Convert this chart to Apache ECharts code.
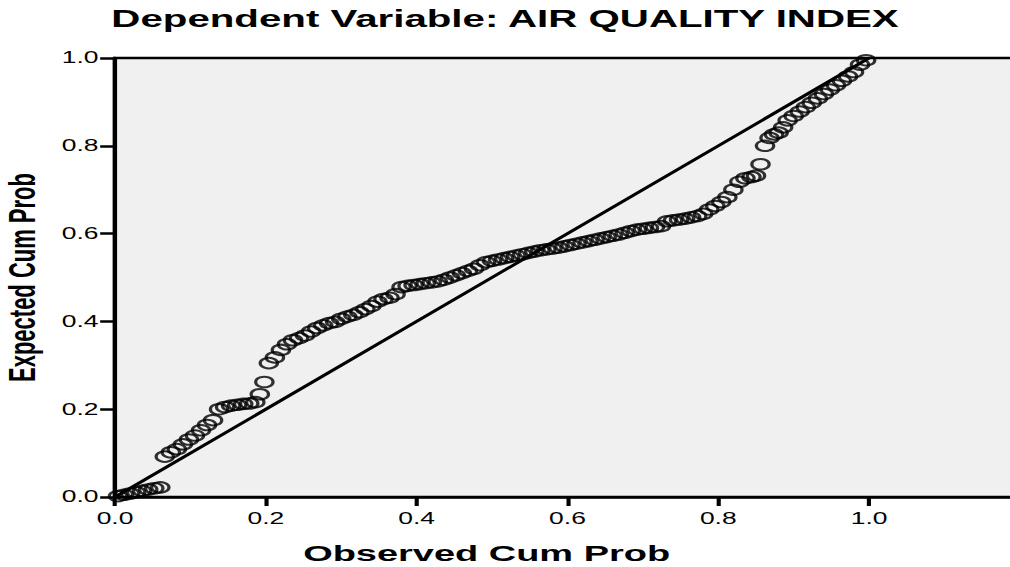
<!DOCTYPE html>
<html>
<head>
<meta charset="utf-8">
<script src="https://cdn.jsdelivr.net/npm/echarts@6/dist/echarts.min.js"></script>
<style>
html,body{margin:0;padding:0;background:#fff;overflow:hidden;width:1010px;height:567px}
#chart{width:612px;height:567px;transform:scaleX(1.650327);transform-origin:0 0;}
</style>
</head>
<body>
<div id="chart"></div>
<script>
// Observed cumulative probability (x) and expected cumulative probability (y)
const observed = [
0.004,0.012,0.020,0.028,0.036,0.044,0.052,0.060,0.066,0.074,
0.082,0.090,0.098,0.106,0.114,0.122,0.130,0.138,0.146,0.154,
0.162,0.170,0.178,0.186,0.192,0.198,0.204,0.212,0.220,0.228,
0.236,0.244,0.252,0.260,0.268,0.276,0.284,0.292,0.300,0.308,
0.316,0.324,0.332,0.340,0.348,0.356,0.364,0.372,0.380,0.388,
0.396,0.404,0.412,0.420,0.428,0.436,0.444,0.452,0.460,0.468,
0.476,0.484,0.492,0.500,0.508,0.516,0.524,0.532,0.540,0.548,
0.556,0.564,0.572,0.580,0.588,0.596,0.604,0.612,0.620,0.628,
0.636,0.644,0.652,0.660,0.668,0.676,0.684,0.692,0.700,0.708,
0.716,0.724,0.732,0.740,0.748,0.756,0.764,0.772,0.780,0.788,
0.796,0.804,0.812,0.820,0.828,0.836,0.844,0.850,0.856,0.862,
0.868,0.874,0.880,0.886,0.892,0.900,0.908,0.916,0.924,0.932,
0.940,0.948,0.956,0.964,0.972,0.980,0.988,0.996
];
const expected = [
0.002,0.005,0.008,0.011,0.014,0.017,0.020,0.022,0.092,0.102,
0.109,0.120,0.131,0.140,0.152,0.164,0.175,0.200,0.205,0.208,
0.210,0.212,0.213,0.216,0.234,0.262,0.305,0.318,0.335,0.348,
0.357,0.362,0.368,0.377,0.385,0.391,0.396,0.399,0.406,0.411,
0.415,0.421,0.428,0.435,0.445,0.451,0.454,0.462,0.478,0.481,
0.483,0.485,0.487,0.489,0.491,0.495,0.500,0.505,0.510,0.515,
0.520,0.528,0.535,0.538,0.541,0.544,0.547,0.550,0.553,0.556,
0.559,0.562,0.564,0.566,0.568,0.571,0.574,0.577,0.580,0.583,
0.586,0.589,0.592,0.595,0.598,0.602,0.606,0.609,0.611,0.613,
0.615,0.617,0.628,0.630,0.632,0.634,0.637,0.640,0.645,0.655,
0.663,0.672,0.683,0.700,0.718,0.726,0.729,0.732,0.758,0.800,
0.818,0.826,0.830,0.842,0.858,0.868,0.878,0.888,0.898,0.908,
0.918,0.928,0.938,0.948,0.958,0.968,0.985,0.995
];
// Reference diagonal
const refX = [0, 1];
const refY = [0, 1];
const titleText = 'Dependent Variable: AIR QUALITY INDEX';
const xName = 'Observed Cum Prob';
const yName = 'Expected Cum Prob';

const chart = echarts.init(document.getElementById('chart'), null, {renderer: 'svg'});
const font = 'Liberation Sans, Arial, sans-serif';
const points = observed.map((x, i) => [x, expected[i]]);
const refLine = refX.map((x, i) => [x, refY[i]]);

chart.setOption({
  animation: false,
  backgroundColor: '#ffffff',
  title: {
    text: titleText,
    left: 'center',
    top: 7,
    padding: [0, 0, 0, 14],
    textStyle: {fontFamily: font, fontWeight: 'bold', fontSize: 24.4, color: '#000'}
  },
  grid: {
    left: 69.7, top: 58, width: 548.3, height: 439,
    outerBoundsMode: 'none', containLabel: false,
    show: true, backgroundColor: '#f0f0f0', borderColor: '#000', borderWidth: 2.5
  },
  xAxis: {
    type: 'value', min: 0, max: 1.2, interval: 0.2,
    name: xName, nameLocation: 'middle', nameGap: 45,
    nameTextStyle: {fontFamily: font, fontWeight: 'bold', fontSize: 23, color: '#000', padding: [0, 98, 0, 0]},
    axisLine: {show: true, onZero: false, lineStyle: {color: '#000', width: 2.5}},
    axisTick: {show: true, length: 9, lineStyle: {color: '#000', width: 2.5}},
    axisLabel: {margin: 13, fontFamily: font, fontSize: 16, color: '#000',
      formatter: v => (v > 1.05 ? '' : v.toFixed(1))},
    splitLine: {show: false}
  },
  yAxis: {
    type: 'value', min: 0, max: 1, interval: 0.2,
    name: yName, nameLocation: 'middle', nameGap: 45, nameRotate: 90,
    nameTextStyle: {fontFamily: font, fontWeight: 'bold', fontSize: 22, color: '#000'},
    axisLine: {show: true, onZero: false, lineStyle: {color: '#000', width: 2.5}},
    axisTick: {show: true, length: 9, lineStyle: {color: '#000', width: 2.5}},
    axisLabel: {margin: 10, fontFamily: font, fontSize: 16, color: '#000',
      formatter: v => v.toFixed(1)},
    splitLine: {show: false}
  },
  series: [
    {
      type: 'line', data: refLine, symbol: 'none', silent: true,
      lineStyle: {color: '#000', width: 2.6}, z: 2
    },
    {
      type: 'scatter', data: points, symbol: 'circle', symbolSize: 10.5,
      itemStyle: {color: 'rgba(0,0,0,0)', borderColor: '#000', borderWidth: 2},
      z: 3
    }
  ]
});
</script>
</body>
</html>
